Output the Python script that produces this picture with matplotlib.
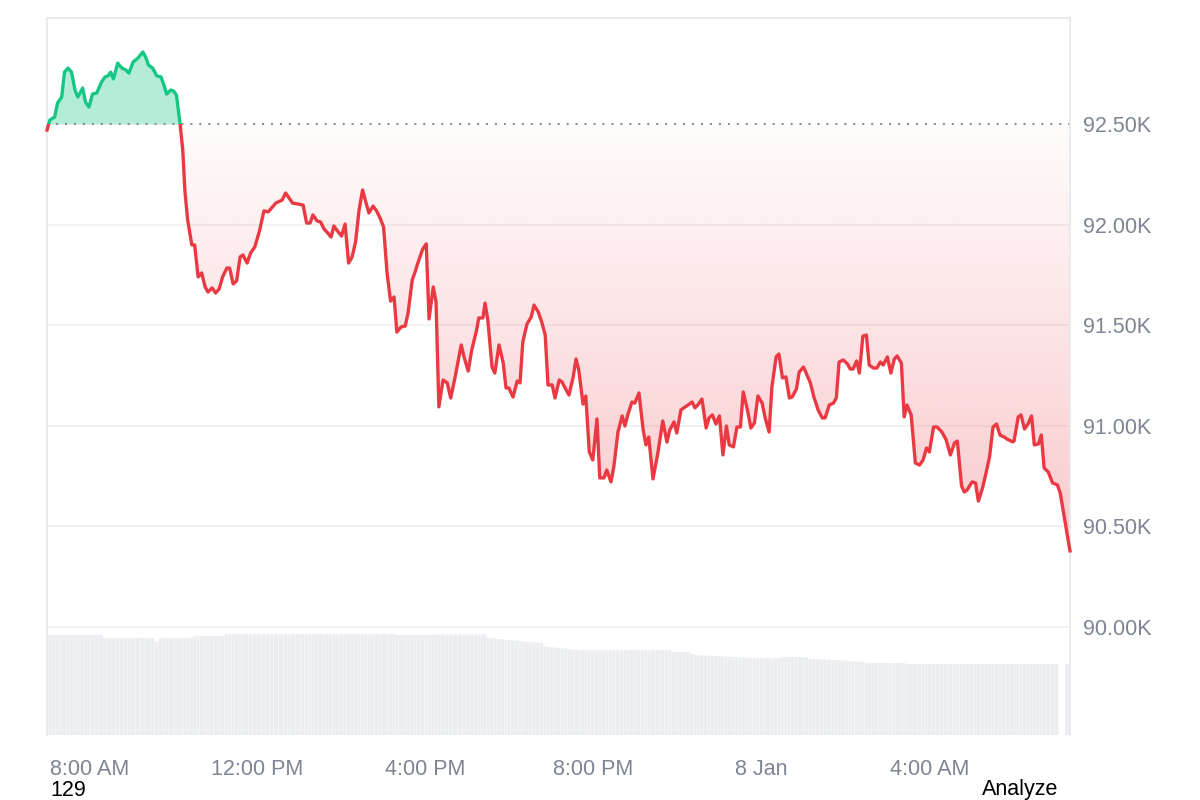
import numpy as np
import pandas as pd
import matplotlib
matplotlib.use("Agg")
import matplotlib.pyplot as plt
import matplotlib.dates as mdates
from matplotlib.colors import to_rgb
from matplotlib.patches import Rectangle
from matplotlib.path import Path

plt.rcParams['font.family'] = ['Liberation Sans', 'DejaVu Sans']

# Startidő és nyitóár (a pontozott referencia-vonal)
START = pd.Timestamp('2026-01-07 07:00')
BASELINE = 92500

# percek 07:00-tól
minutes = [
    -1, 3, 10, 14, 20, 24, 29, 34, 39, 43,
    50, 54, 59, 64, 70, 77, 82, 86, 90, 94,
    100, 106, 112, 116, 122, 129, 136, 140, 144, 150,
    156, 162, 166, 170, 176, 180, 184, 189, 193, 196,
    200, 206, 210, 215, 220, 225, 229, 235, 240, 245,
    250, 256, 260, 265, 270, 275, 279, 285, 290, 296,
    303, 309, 315, 320, 326, 335, 340, 345, 350, 358,
    365, 370, 375, 379, 385, 390, 395, 399, 405, 409,
    413, 420, 425, 430, 435, 440, 445, 450, 455, 459,
    465, 470, 475, 480, 485, 490, 495, 499, 505, 511,
    515, 521, 525, 529, 536, 541, 545, 551, 555, 559,
    565, 571, 576, 582, 591, 595, 601, 606, 613, 616,
    622, 625, 629, 635, 639, 645, 651, 655, 659, 665,
    671, 675, 679, 685, 691, 695, 701, 706, 711, 715,
    721, 725, 731, 735, 741, 745, 751, 755, 759, 765,
    769, 774, 779, 785, 789, 795, 799, 805, 809, 815,
    821, 825, 829, 835, 839, 845, 851, 855, 859, 865,
    872, 879, 885, 889, 895, 899, 905, 909, 915, 921,
    925, 929, 935, 941, 945, 950, 955, 960, 965, 970,
    974, 980, 985, 990, 994, 1000, 1005, 1010, 1015, 1021,
    1025, 1031, 1035, 1041, 1045, 1050, 1055, 1060, 1064, 1070,
    1074, 1080, 1084, 1090, 1095, 1101, 1107, 1111, 1117, 1123,
    1127, 1131, 1137, 1143, 1147, 1151, 1156, 1160, 1165, 1170,
    1174, 1180, 1185, 1190, 1194, 1200, 1205, 1210, 1214, 1220,
    1224, 1228, 1234, 1240, 1246, 1251, 1256, 1260, 1266, 1271,
    1278, 1284, 1290, 1296, 1300, 1306, 1310, 1314, 1321, 1326,
    1330, 1336, 1341, 1346, 1351, 1356, 1361, 1367, 1371, 1379,
    1381, 1387, 1391, 1396, 1401, 1406, 1410, 1416, 1420, 1424,
    1430, 1436, 1443, 1447, 1461,
]

# ár (USD)
prices = [
    92470, 92520, 92535, 92604, 92634, 92758, 92778, 92758, 92669, 92634,
    92679, 92609, 92584, 92649, 92654, 92709, 92734, 92739, 92758, 92724,
    92803, 92778, 92768, 92753, 92808, 92828, 92858, 92833, 92793, 92778,
    92739, 92734, 92694, 92649, 92669, 92664, 92644, 92505, 92371, 92172,
    92023, 91899, 91899, 91740, 91760, 91690, 91665, 91685, 91660, 91680,
    91740, 91784, 91784, 91705, 91720, 91839, 91849, 91809, 91859, 91889,
    91973, 92068, 92063, 92083, 92107, 92122, 92157, 92132, 92107, 92102,
    92097, 92008, 92008, 92048, 92018, 92013, 91978, 91963, 91938, 91993,
    91973, 91943, 92003, 91809, 91839, 91914, 92073, 92172, 92107, 92058,
    92092, 92068, 92033, 91988, 91760, 91620, 91640, 91466, 91491, 91496,
    91561, 91725, 91764, 91809, 91879, 91904, 91531, 91690, 91615, 91094,
    91228, 91213, 91138, 91238, 91402, 91342, 91272, 91377, 91476, 91536,
    91536, 91610, 91526, 91292, 91262, 91402, 91312, 91188, 91188, 91143,
    91223, 91213, 91417, 91506, 91541, 91600, 91566, 91516, 91451, 91203,
    91203, 91138, 91228, 91218, 91178, 91153, 91243, 91332, 91277, 91108,
    91148, 90870, 90830, 91034, 90741, 90741, 90780, 90721, 90795, 90969,
    91049, 90999, 91054, 91118, 91113, 91163, 90979, 90905, 90944, 90736,
    90865, 91024, 90919, 90979, 91019, 90964, 91079, 91089, 91103, 91118,
    91089, 91103, 91133, 90989, 91039, 91054, 91009, 91049, 90855, 90999,
    90905, 90895, 90994, 90994, 91168, 91079, 90989, 91014, 91148, 91113,
    91044, 90969, 91193, 91342, 91357, 91238, 91243, 91138, 91143, 91183,
    91267, 91292, 91262, 91213, 91143, 91079, 91039, 91039, 91103, 91113,
    91138, 91317, 91327, 91307, 91282, 91282, 91322, 91262, 91446, 91451,
    91302, 91287, 91287, 91317, 91302, 91342, 91262, 91332, 91347, 91312,
    91044, 91103, 91054, 90815, 90805, 90830, 90890, 90870, 90994, 90994,
    90969, 90930, 90855, 90915, 90924, 90701, 90671, 90681, 90721, 90716,
    90626, 90691, 90765, 90845, 90994, 91009, 90954, 90944, 90934, 90920,
    90924, 91044, 91054, 90984, 91009, 91049, 90905, 90910, 90954, 90790,
    90770, 90716, 90706, 90666, 90378,
]

# forgalom (mrd USD, 24h gördülő)
volumes = [
    60.0, 60.0, 60.0, 60.0, 60.0, 60.0, 60.0, 60.0, 60.0, 60.0,
    60.0, 60.0, 60.0, 60.0, 60.0, 60.0, 58.2, 58.2, 58.2, 58.2,
    58.2, 58.2, 58.2, 58.2, 58.2, 58.2, 58.2, 58.2, 58.2, 58.2,
    55.8, 58.2, 58.2, 58.2, 58.2, 58.2, 58.2, 58.2, 58.2, 58.2,
    58.2, 58.2, 59.4, 59.4, 59.4, 59.4, 59.4, 59.4, 59.4, 59.4,
    59.4, 60.6, 60.6, 60.6, 60.6, 60.6, 60.6, 60.6, 60.6, 60.6,
    60.6, 60.6, 60.6, 60.6, 60.6, 60.6, 60.6, 60.6, 60.6, 60.6,
    60.6, 60.6, 60.6, 60.6, 60.6, 60.6, 60.6, 60.6, 60.6, 60.6,
    60.6, 60.6, 60.6, 60.6, 60.6, 60.6, 60.6, 60.6, 60.6, 60.6,
    60.6, 60.6, 60.6, 60.6, 60.6, 60.6, 60.6, 60.0, 60.0, 60.0,
    60.0, 60.0, 60.0, 60.0, 60.0, 60.0, 60.0, 60.0, 60.3, 60.3,
    60.3, 60.3, 60.3, 60.3, 60.3, 60.3, 60.3, 60.3, 60.3, 60.3,
    60.3, 60.3, 58.2, 58.0, 57.8, 57.6, 57.4, 57.2, 57.0, 56.8,
    56.6, 56.4, 56.2, 56.0, 55.8, 55.6, 55.4, 55.2, 53.4, 52.8,
    52.6, 52.4, 52.2, 52.0, 51.8, 51.6, 51.4, 51.2, 51.0, 51.0,
    51.0, 51.0, 51.0, 51.0, 51.0, 51.0, 51.0, 51.0, 51.0, 51.0,
    51.0, 51.0, 51.0, 51.0, 51.0, 51.0, 51.0, 51.0, 51.0, 51.0,
    51.0, 51.0, 51.0, 51.0, 49.8, 49.8, 49.8, 49.8, 49.8, 48.6,
    48.0, 47.8, 47.8, 47.6, 47.6, 47.4, 47.4, 47.2, 47.2, 47.0,
    47.0, 46.8, 46.8, 46.6, 46.6, 46.4, 46.4, 46.2, 46.2, 46.2,
    46.2, 46.2, 46.2, 46.2, 46.2, 46.8, 46.8, 46.8, 46.8, 46.8,
    46.8, 46.8, 46.6, 45.6, 45.6, 45.4, 45.4, 45.2, 45.2, 45.0,
    45.0, 44.8, 44.8, 44.6, 44.4, 44.2, 44.0, 44.0, 43.8, 43.2,
    43.2, 43.2, 43.2, 43.2, 43.2, 43.2, 43.2, 43.2, 43.2, 43.2,
    43.2, 42.6, 42.6, 42.6, 42.6, 42.6, 42.6, 42.6, 42.6, 42.6,
    42.6, 42.6, 42.6, 42.6, 42.6, 42.6, 42.6, 42.6, 42.6, 42.6,
    42.6, 42.6, 42.6, 42.6, 42.6, 42.6, 42.6, 42.6, 42.6, 42.6,
    42.6, 42.6, 42.6, 42.6, 42.6, 42.6, 42.6, 42.6, 42.6, 42.6,
    42.6, 42.6, 42.6, 0.0, 42.6,
]

tick_times = ['2026-01-07 08:00', '2026-01-07 12:00', '2026-01-07 16:00',
              '2026-01-07 20:00', '2026-01-08 00:00', '2026-01-08 04:00']
tick_labels = ['8:00 AM', '12:00 PM', '4:00 PM', '8:00 PM', '8 Jan', '4:00 AM']
price_ticks = [90000, 90500, 91000, 91500, 92000, 92500]
price_labels = ['90.00K', '90.50K', '91.00K', '91.50K', '92.00K', '92.50K']

RED = '#ea3943'
GREEN = '#16c784'
LABEL = '#7d8593'
FRAME = '#e6e8eb'


def main():
    times = START + pd.to_timedelta(minutes, unit='m')
    x = mdates.date2num(times.to_pydatetime())
    p = np.array(prices, dtype=float)

    fig = plt.figure(figsize=(12, 8), dpi=100)
    ax = fig.add_axes([47 / 1200, 65 / 800, 1023 / 1200, 717 / 800])
    axv = ax.twinx()
    ax.set_zorder(axv.get_zorder() + 1)
    ax.patch.set_visible(False)

    # Forgalmi oszlopok (háttérben)
    edges = np.concatenate([[x[0]], (x[:-1] + x[1:]) / 2, [x[-1]]])
    bars = axv.bar(edges[:-1], volumes, width=np.diff(edges) * 0.9, align='edge',
                   color='#ebedf0', linewidth=0)
    for b in bars:
        b.set_snap(False)
    axv.set_ylim(0, 430)
    axv.axis('off')

    # Rácsvonalak
    for yv in price_ticks[:-1]:
        ax.axhline(yv, color='#eeeff1', lw=1.1, zorder=0)
    ax.axhline(BASELINE, color='#8f8f8f', lw=1.5, ls=(0, (1, 3.3)), zorder=2)

    # Zöld kitöltés a nyitóár felett
    ax.fill_between(x, p, BASELINE, where=p >= BASELINE, interpolate=True,
                    color=GREEN, alpha=0.32, lw=0, zorder=1)

    # Piros, lefelé erősödő színátmenet a nyitóár alatt
    red_area = ax.fill_between(x, p, BASELINE, where=p <= BASELINE, interpolate=True,
                               facecolor='none', edgecolor='none')
    grad = np.zeros((256, 1, 4))
    grad[..., :3] = to_rgb(RED)
    grad[:, 0, 3] = np.linspace(0.27, 0.02, 256)
    im = ax.imshow(grad, extent=[x[0], x[-1], p.min(), BASELINE], origin='lower',
                   aspect='auto', interpolation='bilinear', zorder=1)
    clip = Path.make_compound_path(*red_area.get_paths())
    im.set_clip_path(clip, ax.transData)

    # Árfolyamvonal: zöld a nyitóár felett, piros alatta
    width = x[-1] - x[0] + 2
    up, = ax.plot(x, p, color=GREEN, lw=2.4, solid_joinstyle='round', zorder=3)
    up.set_clip_path(Rectangle((x[0] - 1, BASELINE), width, 10000, transform=ax.transData))
    down, = ax.plot(x, p, color=RED, lw=2.4, solid_joinstyle='round', zorder=3)
    down.set_clip_path(Rectangle((x[0] - 1, BASELINE - 10000), width, 10000,
                                 transform=ax.transData))

    ax.set_xlim(x[0], x[-1])
    ax.set_ylim(89463, 93027)

    ax.set_xticks(mdates.date2num(pd.to_datetime(tick_times).to_pydatetime()))
    ax.set_xticklabels(tick_labels)
    ax.set_yticks(price_ticks)
    ax.set_yticklabels(price_labels)
    ax.yaxis.tick_right()
    ax.tick_params(axis='x', length=0, pad=17, labelsize=15.5, labelcolor=LABEL)
    ax.tick_params(axis='y', length=0, pad=9, labelsize=15.5, labelcolor=LABEL)

    for side in ['top', 'left', 'right']:
        ax.spines[side].set_color(FRAME)
        ax.spines[side].set_linewidth(1.2)
    ax.spines['bottom'].set_visible(False)

    fig.text(50 / 1200, 1 - 790 / 800, '129', fontsize=15.5, color='black',
             ha='left', va='center')
    fig.text(1058 / 1200, 1 - 790 / 800, 'Analyze', fontsize=15.5, color='black',
             ha='right', va='center')

    fig.savefig('out.png', dpi=100)


if __name__ == "__main__":
    main()
